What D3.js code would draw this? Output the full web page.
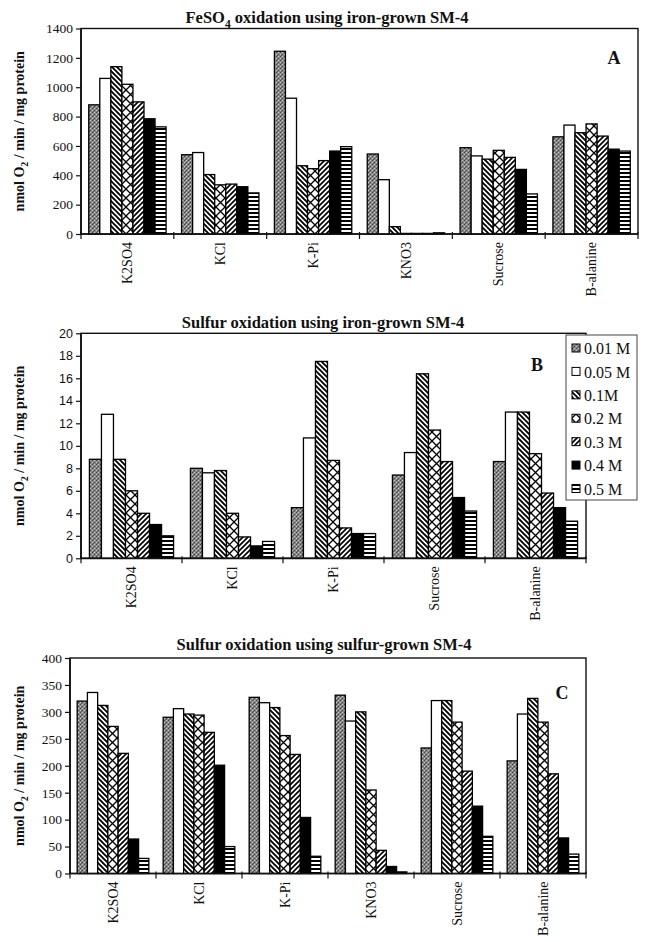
<!DOCTYPE html>
<html><head><meta charset="utf-8">
<script src="https://cdn.jsdelivr.net/npm/d3@7"></script>
<style>body{margin:0;background:#fff;} svg{display:block}</style>
</head><body>
<svg id="c" width="654" height="942"></svg>
<script>
// ---------- DATA ----------
const seriesLabels = ["0.01 M", "0.05 M", "0.1M", "0.2 M", "0.3 M", "0.4 M", "0.5 M"];

// Panel A: FeSO4 oxidation using iron-grown SM-4
const catsA = ["K2SO4", "KCl", "K-Pi", "KNO3", "Sucrose", "B-alanine"];
const ticksA = [0, 200, 400, 600, 800, 1000, 1200, 1400];
const feIron_001 = [880, 540, 1245, 545, 588, 662];
const feIron_005 = [1060, 555, 925, 370, 532, 742];
const feIron_01  = [1140, 405, 465, 50, 510, 690];
const feIron_02  = [1020, 335, 445, 4, 570, 750];
const feIron_03  = [900, 340, 500, 4, 522, 667];
const feIron_04  = [785, 322, 565, 4, 440, 578];
const feIron_05  = [730, 280, 595, 8, 273, 565];

// Panel B: Sulfur oxidation using iron-grown SM-4
const catsB = ["K2SO4", "KCl", "K-Pi", "Sucrose", "B-alanine"];
const ticksB = [0, 2, 4, 6, 8, 10, 12, 14, 16, 18, 20];
const sIron_001 = [8.8, 8.0, 4.5, 7.4, 8.6];
const sIron_005 = [12.8, 7.6, 10.7, 9.4, 13.0];
const sIron_01  = [8.8, 7.8, 17.5, 16.4, 13.0];
const sIron_02  = [6.0, 4.0, 8.7, 11.4, 9.3];
const sIron_03  = [4.0, 1.9, 2.7, 8.6, 5.8];
const sIron_04  = [3.0, 1.1, 2.2, 5.4, 4.5];
const sIron_05  = [2.0, 1.5, 2.2, 4.2, 3.3];

// Panel C: Sulfur oxidation using sulfur-grown SM-4
const catsC = ["K2SO4", "KCl", "K-Pi", "KNO3", "Sucrose", "B-alanine"];
const ticksC = [0, 50, 100, 150, 200, 250, 300, 350, 400];
const sSulf_001 = [320, 290, 327, 331, 233, 209];
const sSulf_005 = [336, 306, 317, 283, 321, 296];
const sSulf_01  = [312, 296, 308, 300, 321, 325];
const sSulf_02  = [273, 294, 256, 155, 281, 281];
const sSulf_03  = [223, 262, 221, 43, 190, 185];
const sSulf_04  = [64, 201, 104, 13, 125, 66];
const sSulf_05  = [28, 50, 32, 3, 69, 36];

// ---------- DRAWING ----------
const svg = d3.select("#c");
const SERIF = "'Liberation Serif','Times New Roman',serif";
const SANS = "'Liberation Sans',Arial,sans-serif";

const defs = svg.append("defs");
// 0.01 M stipple
const pS = defs.append("pattern").attr("id","pStip").attr("patternUnits","userSpaceOnUse").attr("width",4).attr("height",4);
pS.append("rect").attr("width",4).attr("height",4).attr("fill","#888888");
pS.append("rect").attr("x",0).attr("y",0).attr("width",1).attr("height",1).attr("fill","#444");
pS.append("rect").attr("x",2).attr("y",2).attr("width",1).attr("height",1).attr("fill","#444");
pS.append("rect").attr("x",2).attr("y",0).attr("width",1).attr("height",1).attr("fill","#c4c4c4");
pS.append("rect").attr("x",0).attr("y",2).attr("width",1).attr("height",1).attr("fill","#c4c4c4");
pS.append("rect").attr("x",1).attr("y",3).attr("width",1).attr("height",1).attr("fill","#555");
// 0.1 M back-diagonal (\\)
const pB = defs.append("pattern").attr("id","pBack").attr("patternUnits","userSpaceOnUse").attr("width",5).attr("height",5);
pB.append("rect").attr("width",5).attr("height",5).attr("fill","#fff");
pB.append("path").attr("d","M-1,-1 L6,6 M-1,4 L1,6 M4,-1 L6,1").attr("stroke","#000").attr("stroke-width",1.9);
// 0.2 M zigzag / diamonds
const pZ = defs.append("pattern").attr("id","pZig").attr("patternUnits","userSpaceOnUse").attr("width",9).attr("height",9);
pZ.append("rect").attr("width",9).attr("height",9).attr("fill","#fff");
pZ.append("path").attr("d","M0,0 L9,9 M9,0 L0,9").attr("stroke","#000").attr("stroke-width",1.3);
// 0.3 M forward diagonal (//)
const pF = defs.append("pattern").attr("id","pFwd").attr("patternUnits","userSpaceOnUse").attr("width",5).attr("height",5);
pF.append("rect").attr("width",5).attr("height",5).attr("fill","#fff");
pF.append("path").attr("d","M-1,6 L6,-1 M-1,1 L1,-1 M4,6 L6,4").attr("stroke","#000").attr("stroke-width",1.7);
// 0.5 M horizontal stripes
const pH = defs.append("pattern").attr("id","pHor").attr("patternUnits","userSpaceOnUse").attr("width",4).attr("height",4);
pH.append("rect").attr("width",4).attr("height",4).attr("fill","#fff");
pH.append("rect").attr("y",0).attr("width",4).attr("height",2).attr("fill","#000");

const fills = ["url(#pStip)", "#ffffff", "url(#pBack)", "url(#pZig)", "url(#pFwd)", "#000000", "url(#pHor)"];

function titleText(g, x, y, parts, size) {
  const t = g.append("text").attr("x", x).attr("y", y).attr("text-anchor","middle")
    .attr("font-family", SERIF).attr("font-weight","bold").attr("font-size", size).attr("fill","#111");
  parts.forEach(p => {
    if (p.sub) {
      t.append("tspan").attr("dy", size*0.28).attr("font-size", size*0.7).text(p.t);
    } else if (p.after) {
      t.append("tspan").attr("dy", -size*0.28).text(p.t);
    } else {
      t.append("tspan").text(p.t);
    }
  });
  return t;
}

function panel(cfg) {
  const g = svg.append("g");
  const x = d3.scaleBand().domain(cfg.cats).range([cfg.left, cfg.right]).paddingInner(0).paddingOuter(0);
  const xs = d3.scaleBand().domain(d3.range(seriesLabels.length)).range([0, x.bandwidth()]).paddingInner(0).paddingOuter(0.7);
  const y = d3.scaleLinear().domain([0, cfg.max]).range([cfg.bottom, cfg.top]);

  // frame
  g.append("rect").attr("x", cfg.left).attr("y", cfg.top)
    .attr("width", cfg.right - cfg.left).attr("height", cfg.bottom - cfg.top)
    .attr("fill","none").attr("stroke","#111").attr("stroke-width",1.4);

  // bars
  cfg.values.forEach((vals, si) => {
    g.append("g").selectAll("rect").data(vals).join("rect")
      .attr("x", (d, i) => x(cfg.cats[i]) + xs(si))
      .attr("y", d => y(d))
      .attr("width", xs.bandwidth())
      .attr("height", d => y(0) - y(d))
      .attr("fill", fills[si])
      .attr("stroke", "#000").attr("stroke-width", 1.3);
  });

  // y axis
  const ya = g.append("g").attr("transform", `translate(${cfg.left},0)`)
    .call(d3.axisLeft(y).tickValues(cfg.ticks).tickSize(5).tickPadding(3).tickSizeOuter(0).tickFormat(d3.format("d")));
  ya.select(".domain").remove();
  ya.selectAll("line").attr("stroke","#111").attr("stroke-width",1.2);
  ya.selectAll("text").attr("font-family", cfg.tickFont).attr("font-size", cfg.tickSize).attr("fill","#111");
  g.append("line").attr("x1", cfg.left).attr("x2", cfg.left).attr("y1", cfg.top).attr("y2", cfg.bottom)
    .attr("stroke","#111").attr("stroke-width",1.7);

  // x axis labels
  const xa = g.append("g").attr("transform", `translate(0,${cfg.bottom})`)
    .call(d3.axisBottom(x).tickSize(0).tickPadding(0));
  xa.select(".domain").remove();
  xa.selectAll("text").attr("transform","rotate(-90)").attr("text-anchor","end")
    .attr("x", -8).attr("y", 0).attr("dy","0.33em")
    .attr("font-family", SERIF).attr("font-size", 14).attr("fill","#111");
  g.append("line").attr("x1", cfg.left).attr("x2", cfg.right).attr("y1", cfg.bottom).attr("y2", cfg.bottom)
    .attr("stroke","#111").attr("stroke-width",1.7);
  // boundary ticks
  const bounds = cfg.cats.map(c => x(c)).concat([x(cfg.cats[cfg.cats.length-1]) + x.bandwidth()]);
  g.append("g").selectAll("line").data(bounds).join("line")
    .attr("x1", d => d).attr("x2", d => d).attr("y1", cfg.bottom - 2).attr("y2", cfg.bottom + 5)
    .attr("stroke","#111").attr("stroke-width",1.2);

  // title
  titleText(g, cfg.titleX, cfg.titleY, cfg.title, 16.5);
  // panel letter
  g.append("text").attr("x", cfg.letterX).attr("y", cfg.letterY).attr("text-anchor","middle")
    .attr("font-family", SERIF).attr("font-weight","bold").attr("font-size", 18).attr("fill","#111").text(cfg.letter);
  // y title
  const cy = (cfg.top + cfg.bottom) / 2;
  const yt = g.append("text").attr("transform", `translate(24,${cy}) rotate(-90)`).attr("text-anchor","middle")
    .attr("font-family", SERIF).attr("font-weight","bold").attr("font-size", 14).attr("fill","#111");
  yt.append("tspan").text("nmol O");
  yt.append("tspan").attr("dy", 4).attr("font-size", 10).text("2");
  yt.append("tspan").attr("dy", -4).text(" / min / mg protein");
  return {g, x, y};
}

panel({
  cats: catsA, max: 1400, ticks: ticksA,
  values: [feIron_001, feIron_005, feIron_01, feIron_02, feIron_03, feIron_04, feIron_05],
  left: 81, right: 638, top: 28.5, bottom: 234,
  tickFont: SERIF, tickSize: 13.5,
  title: [{t:"FeSO"},{t:"4", sub:true},{t:" oxidation using iron-grown SM-4", after:true}],
  titleX: 327, titleY: 23, letter: "A", letterX: 614, letterY: 64
});

panel({
  cats: catsB, max: 20, ticks: ticksB,
  values: [sIron_001, sIron_005, sIron_01, sIron_02, sIron_03, sIron_04, sIron_05],
  left: 81, right: 586, top: 333.3, bottom: 558.3,
  tickFont: SANS, tickSize: 12.5,
  title: [{t:"Sulfur oxidation using iron-grown SM-4"}],
  titleX: 323, titleY: 328, letter: "B", letterX: 537, letterY: 371
});

panel({
  cats: catsC, max: 400, ticks: ticksC,
  values: [sSulf_001, sSulf_005, sSulf_01, sSulf_02, sSulf_03, sSulf_04, sSulf_05],
  left: 70, right: 586, top: 658, bottom: 873.5,
  tickFont: SERIF, tickSize: 13.5,
  title: [{t:"Sulfur oxidation using sulfur-grown SM-4"}],
  titleX: 324, titleY: 650, letter: "C", letterX: 562, letterY: 699
});

// legend (panel B)
const lg = svg.append("g");
lg.append("rect").attr("x", 566).attr("y", 335).attr("width", 71).attr("height", 165)
  .attr("fill","#fff").attr("stroke","#444").attr("stroke-width",1);
const ly = d3.scalePoint().domain(seriesLabels).range([348.5, 489]);
seriesLabels.forEach((s, i) => {
  lg.append("rect").attr("x", 572).attr("y", ly(s) - 4.5).attr("width", 8).attr("height", 8)
    .attr("fill", fills[i]).attr("stroke","#000").attr("stroke-width",1);
  lg.append("text").attr("x", 584).attr("y", ly(s)).attr("dy","0.35em")
    .attr("font-family", SERIF).attr("font-size", 16).attr("fill","#111").text(s);
});
</script>
</body></html>
